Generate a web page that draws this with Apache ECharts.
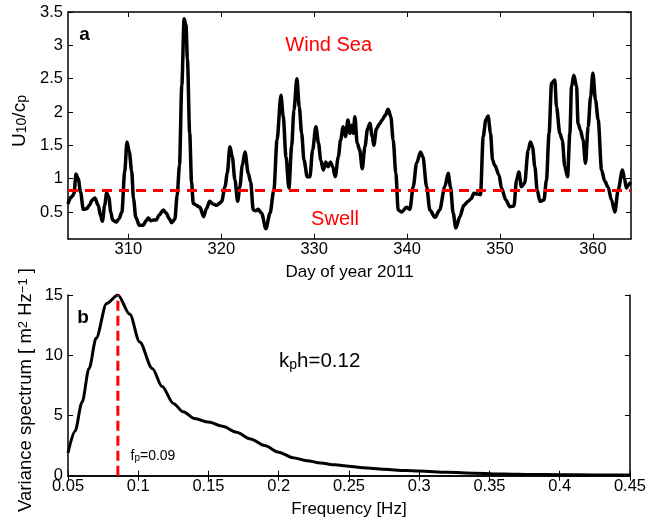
<!DOCTYPE html>
<html>
<head>
<meta charset="utf-8">
<script src="https://cdn.jsdelivr.net/npm/echarts@6/dist/echarts.min.js"></script>
<style>html,body{margin:0;padding:0;background:#fff}#c{width:649px;height:523px}</style>
</head>
<body>
<div id="c"></div>
<script>
// Panel a: U10/cp time series
const days = [303.5,303.8,304.0,304.15,304.36,304.6,304.85,305.15,305.5,305.8,306.1,306.4,306.75,307.0,307.2,307.45,307.66,307.9,308.1,308.3,308.7,309.0,309.3,309.6,309.85,310.1,310.35,310.55,310.8,311.17,311.6,311.9,312.14,312.4,312.7,313.0,313.3,313.75,314.1,314.4,314.66,315.0,315.25,315.5,315.75,316.0,316.2,316.35,316.6,316.8,316.98,317.3,317.7,318.1,318.4,318.75,319.1,319.5,319.8,320.04,320.4,320.64,320.93,321.18,321.47,321.76,322.0,322.26,322.55,322.9,323.16,323.44,323.7,323.97,324.34,324.8,325.24,325.66,326.0,326.42,326.67,326.96,327.28,327.57,327.82,328.14,328.39,328.65,328.9,329.25,329.54,329.83,330.18,330.47,330.7,330.98,331.25,331.5,331.75,332.0,332.26,332.6,332.84,333.12,333.37,333.63,333.85,334.05,334.2,334.38,334.63,334.9,335.17,335.46,335.75,336.0,336.25,336.42,336.7,337.07,337.3,337.64,337.96,338.25,338.5,338.79,339.04,339.4,339.94,340.3,340.66,341.02,341.45,341.7,342.1,342.45,343.0,343.5,344.06,344.42,344.67,344.96,345.25,345.68,346.1,346.57,346.9,347.18,347.63,347.9,348.19,348.47,348.72,348.98,349.2,349.44,349.9,350.16,350.63,351.06,351.5,351.78,352.03,352.3,352.65,353.03,353.28,353.5,353.75,354.0,354.3,354.73,355.0,355.28,355.55,355.9,356.08,356.44,356.7,356.98,357.27,357.52,357.7,357.95,358.24,358.4,358.65,358.94,359.2,359.49,359.75,360.0,360.28,360.57,360.93,361.28,361.64,362.0,362.36,362.72,363.18,363.4,363.6,363.8,364.05];
const u10cp = [0.62,0.72,0.74,0.78,1.07,1.0,0.8,0.54,0.55,0.6,0.68,0.71,0.6,0.45,0.36,0.6,0.79,0.72,0.5,0.38,0.35,0.4,0.5,1.1,1.55,1.4,1.12,0.7,0.42,0.3,0.3,0.37,0.41,0.37,0.38,0.38,0.45,0.53,0.48,0.4,0.34,0.39,0.75,1.2,2.4,3.4,3.3,2.8,1.68,0.95,0.63,0.6,0.57,0.43,0.55,0.66,0.62,0.6,0.63,0.66,0.88,1.08,1.48,1.33,0.98,0.66,0.88,1.2,1.4,1.08,0.95,0.53,0.52,0.54,0.48,0.25,0.48,0.83,1.58,2.25,1.93,1.33,0.86,1.48,2.03,2.5,2.08,1.68,1.28,1.03,1.03,1.43,1.78,1.53,1.28,1.13,1.25,1.18,1.25,1.18,1.03,1.33,1.58,1.78,1.63,1.88,1.68,1.8,1.68,1.93,1.53,1.43,1.15,1.48,1.75,1.83,1.63,1.5,1.75,1.83,1.88,1.95,2.04,1.93,1.58,1.08,0.53,0.5,0.57,0.54,0.88,1.23,1.4,1.33,0.88,0.53,0.42,0.53,0.88,1.08,0.88,0.48,0.26,0.43,0.6,0.66,0.7,0.78,0.77,0.76,1.63,1.88,1.94,1.68,1.28,1.2,1.05,0.86,0.68,0.58,0.59,0.98,1.1,0.88,0.93,1.43,1.55,1.48,1.18,0.83,0.66,0.68,0.98,1.68,2.43,2.48,2.08,1.68,1.58,1.18,1.03,1.68,2.38,2.55,2.38,1.83,1.73,1.58,1.23,1.78,2.23,2.58,2.18,1.88,1.13,0.96,0.87,0.68,0.5,0.83,1.13,1.0,0.86,0.9,0.95];
const threshold = 0.83;
const dayTicks = [310,320,330,340,350,360];
const ratioTicks = [0.5,1,1.5,2,2.5,3,3.5];

// Panel b: variance spectrum
const freq = [0.05,0.055,0.06,0.065,0.07,0.0775,0.0855,0.094,0.101,0.11,0.117,0.125,0.132,0.14,0.15,0.16,0.17,0.18,0.19,0.2,0.21,0.22,0.23,0.24,0.25,0.26,0.275,0.29,0.3,0.32,0.34,0.36,0.38,0.4,0.425,0.45];
const spec = [1.9,3.7,6.1,8.9,11.4,14.3,15.0,13.4,11.1,8.9,7.4,6.0,5.3,4.75,4.45,4.1,3.6,3.05,2.5,1.95,1.5,1.25,1.05,0.9,0.78,0.66,0.53,0.43,0.38,0.28,0.2,0.14,0.1,0.08,0.06,0.05];
const fp = 0.0855;
const fpPeak = 15.0;
const freqTicks = [0.05,0.1,0.15,0.2,0.25,0.3,0.35,0.4,0.45];
const specTicks = [0,5,10,15];

const FONT = "'Liberation Sans', Arial, Helvetica, sans-serif";
const chart = echarts.init(document.getElementById('c'), null, {renderer: 'canvas'});

const axLine = {show: true, lineStyle: {color: '#000', width: 1.5}};
function tick(vals) { return {show: true, inside: true, length: 5, lineStyle: {color: '#000', width: 1}, customValues: vals}; }
function lab(vals, fmt) { return {show: true, color: '#000', fontSize: 16.5, fontFamily: FONT, customValues: vals, formatter: fmt}; }
const fmt2 = v => String(parseFloat(Number(v).toFixed(2)));

const option = {
  animation: false,
  backgroundColor: '#fff',
  textStyle: {fontFamily: FONT},
  grid: [
    {left: 68, top: 12, width: 563, height: 226.7},
    {left: 68, top: 295, width: 563, height: 180.7}
  ],
  xAxis: [
    {gridIndex: 0, type: 'value', position: 'bottom', min: 303.5, max: 364.1, axisLine: axLine, axisTick: tick(dayTicks),
     axisLabel: Object.assign(lab(dayTicks, fmt2), {margin: 2}), splitLine: {show: false},
     name: 'Day of year 2011', nameLocation: 'middle', nameGap: 25,
     nameTextStyle: {color: '#000', fontSize: 17, fontFamily: FONT}},
    {gridIndex: 0, type: 'value', position: 'top', min: 303.5, max: 364.1, axisLine: axLine, axisTick: tick(dayTicks),
     axisLabel: {show: false}, splitLine: {show: false}},
    {gridIndex: 1, type: 'value', position: 'bottom', min: 0.05, max: 0.45, axisLine: axLine, axisTick: tick(freqTicks),
     axisLabel: Object.assign(lab(freqTicks, fmt2), {margin: 2}), splitLine: {show: false},
     name: 'Frequency [Hz]', nameLocation: 'middle', nameGap: 25,
     nameTextStyle: {color: '#000', fontSize: 17, fontFamily: FONT}},
    {gridIndex: 1, type: 'value', position: 'top', min: 0.05, max: 0.45, axisLine: axLine, axisTick: tick(freqTicks),
     axisLabel: {show: false}, splitLine: {show: false}}
  ],
  yAxis: [
    {gridIndex: 0, type: 'value', position: 'left', min: 0.1, max: 3.5, axisLine: axLine, axisTick: tick(ratioTicks),
     axisLabel: Object.assign(lab(ratioTicks, fmt2), {margin: 5}), splitLine: {show: false}},
    {gridIndex: 0, type: 'value', position: 'right', min: 0.1, max: 3.5, axisLine: axLine, axisTick: tick(ratioTicks),
     axisLabel: {show: false}, splitLine: {show: false}},
    {gridIndex: 1, type: 'value', position: 'left', min: 0, max: 15, axisLine: axLine, axisTick: tick(specTicks),
     axisLabel: Object.assign(lab(specTicks, fmt2), {margin: 5}), splitLine: {show: false}},
    {gridIndex: 1, type: 'value', position: 'right', min: 0, max: 15, axisLine: axLine, axisTick: tick(specTicks),
     axisLabel: {show: false}, splitLine: {show: false}}
  ],
  series: [
    {type: 'line', xAxisIndex: 0, yAxisIndex: 0, data: days.map((d, i) => [d, u10cp[i]]),
     showSymbol: false, smooth: 0.3, smoothMonotone: 'x', lineStyle: {color: '#000', width: 3.5}, z: 2,
     markLine: {silent: true, symbol: 'none', label: {show: false}, animation: false,
       lineStyle: {color: '#ff0000', width: 3, type: [10, 7]}, data: [{yAxis: threshold}], z: 3}},
    {type: 'line', xAxisIndex: 2, yAxisIndex: 2, data: freq.map((f, i) => [f, spec[i]]),
     showSymbol: false, smooth: 0.3, smoothMonotone: 'x', lineStyle: {color: '#000', width: 3}, z: 2},
    {type: 'line', xAxisIndex: 2, yAxisIndex: 2, data: [[fp, 0], [fp, fpPeak]],
     showSymbol: false, lineStyle: {color: '#ff0000', width: 3, type: [10, 5]}, z: 3}
  ],
  graphic: [
    {type: 'text', x: 14, y: 121, rotation: Math.PI / 2,
     style: {text: '{n|U}{s|10}{n|/c}{s|p}', align: 'center', verticalAlign: 'middle', fill: '#000',
       rich: {n: {fontSize: 19, lineHeight: 19, verticalAlign: 'bottom', fontFamily: FONT, fill: '#000'},
              s: {fontSize: 14, lineHeight: 30, verticalAlign: 'bottom', fontFamily: FONT, fill: '#000'}}}},
    {type: 'text', x: 30, y: 390, rotation: Math.PI / 2,
     style: {text: '{n|Variance spectrum [ m}{u|2}{n| Hz}{u|\u22121}{n| ]}', align: 'center', verticalAlign: 'middle', fill: '#000',
       rich: {n: {fontSize: 18.5, lineHeight: 18.5, verticalAlign: 'top', fontFamily: FONT, fill: '#000'},
              u: {fontSize: 13, lineHeight: 27, verticalAlign: 'top', fontFamily: FONT, fill: '#000'}}}},
    {type: 'text', x: 84.5, y: 34.5, style: {text: 'a', font: 'bold 19px ' + FONT, align: 'center', verticalAlign: 'middle', fill: '#000'}},
    {type: 'text', x: 83, y: 317.5, style: {text: 'b', font: 'bold 19px ' + FONT, align: 'center', verticalAlign: 'middle', fill: '#000'}},
    {type: 'text', x: 328.7, y: 45.5, style: {text: 'Wind Sea', font: '20px ' + FONT, align: 'center', verticalAlign: 'middle', fill: '#ff0000'}},
    {type: 'text', x: 335, y: 219, style: {text: 'Swell', font: '20px ' + FONT, align: 'center', verticalAlign: 'middle', fill: '#ff0000'}},
    {type: 'text', x: 279, y: 342,
     style: {text: '{n|k}{s|p}{n|h=0.12}', align: 'left', verticalAlign: 'top', fill: '#000',
       rich: {n: {fontSize: 20.5, lineHeight: 20.5, verticalAlign: 'bottom', fontFamily: FONT, fill: '#000'},
              s: {fontSize: 14, lineHeight: 30, verticalAlign: 'bottom', fontFamily: FONT, fill: '#000'}}}},
    {type: 'text', x: 130.5, y: 442,
     style: {text: '{n|f}{s|p}{n|=0.09}', align: 'left', verticalAlign: 'top', fill: '#000',
       rich: {n: {fontSize: 14, lineHeight: 14, verticalAlign: 'bottom', fontFamily: FONT, fill: '#000'},
              s: {fontSize: 10, lineHeight: 21, verticalAlign: 'bottom', fontFamily: FONT, fill: '#000'}}}}
  ]
};
chart.setOption(option);
</script>
</body>
</html>
